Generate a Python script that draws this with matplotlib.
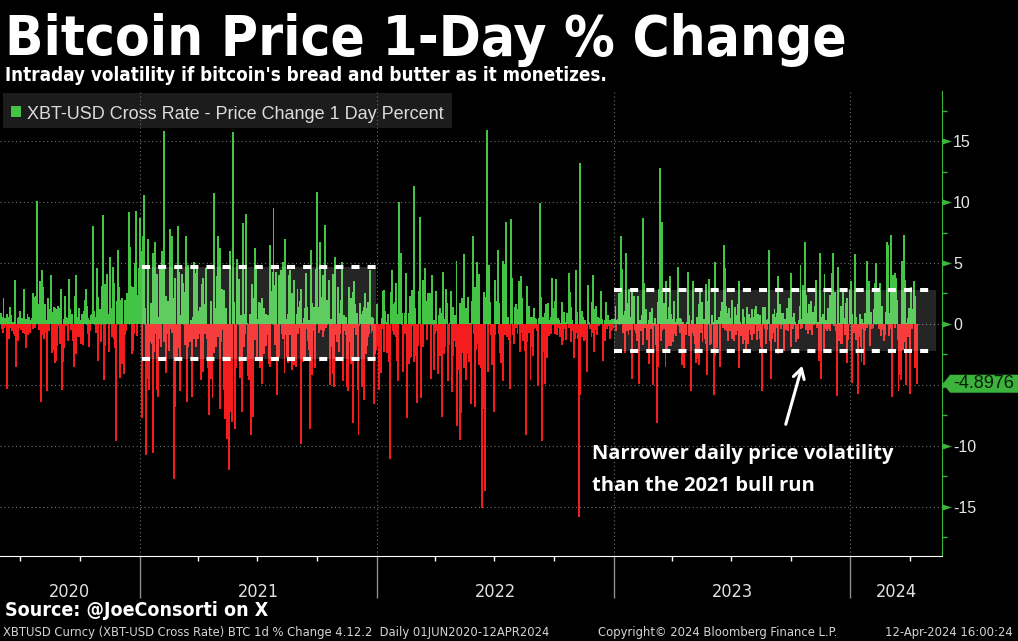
import matplotlib
matplotlib.use("Agg")
import matplotlib.pyplot as plt
import matplotlib.dates as mdates
from matplotlib.patches import Rectangle, Polygon
from matplotlib.ticker import MultipleLocator
import numpy as np
import pandas as pd

plt.rcParams['axes.unicode_minus'] = False

# XBT-USD 1 day % change, one string per month (Jun 2020 .. 12 Apr 2024)
chg_2020 = [
    "0.9 -0.4 0.6 -0.7 2.1 -0.3 0.5 -0.2 0.4 0.8 -5.3 0.6 -0.5 -1.2 1.4 0.7 -0.3 -0.6 0.2 -0.1 -0.8 -1.0 3.6 -3.5 -0.9 -0.4 -1.4 0.5 0.6 -0.3",
    "1.1 -0.5 0.3 0.5 -0.7 1.7 2.9 -0.8 0.4 -2.0 0.3 0.8 -0.9 0.6 -0.4 -0.7 0.2 0.3 0.5 -0.4 2.5 2.2 0.8 -0.3 2.3 1.1 10.1 0.4 1.6 -0.5 3.5",
    "2.4 -6.4 4.4 -0.9 3.0 -0.4 -1.2 1.6 -0.7 0.3 -5.5 1.9 2.1 -0.6 1.2 0.5 4.0 -1.3 -2.4 1.0 -2.1 1.4 -3.2 1.3 -3.0 1.2 -1.8 1.5 -0.2 1.3 -1.6",
    "2.9 -0.9 -5.4 -3.1 -1.9 0.4 -2.0 2.3 0.6 -0.2 0.5 0.4 -1.4 3.7 1.2 0.6 -0.5 0.8 0.5 -1.4 -0.9 -3.5 2.3 -2.5 4.0 -0.2 0.6 -1.1 1.3 -0.1",
    "-1.1 -1.6 0.3 0.8 -1.7 -1.5 1.1 2.0 1.0 2.9 0.6 1.5 -0.8 0.5 -1.9 -0.6 0.3 0.7 0.8 0.6 8.0 1.1 0.3 0.6 -0.7 -0.3 4.6 -3.0 2.2 -0.1 1.2",
    "0.9 -1.5 2.9 3.1 8.9 2.1 -4.6 3.3 -1.8 0.2 1.9 4.1 0.8 -2.3 -0.8 5.5 1.3 0.9 -1.1 4.7 0.6 -1.2 3.4 -2.0 -3.6 -9.6 1.9 3.3 6.1 3.0",
    "-4.4 2.0 1.6 -3.3 2.1 -3.2 -1.3 -4.1 2.0 -0.9 -0.6 2.5 1.7 0.5 1.7 9.2 6.3 3.1 1.5 -2.5 -2.2 3.0 -0.8 5.0 3.3 9.3 2.4 -1.0 0.7 4.6 0.9",
]
chg_2021 = [
    "1.9 8.7 3.1 -7.7 6.0 7.2 10.6 5.1 1.3 -4.0 -10.7 -4.5 6.2 7.0 -5.4 -1.5 -1.0 1.7 -1.6 -0.5 -10.6 5.8 -2.3 6.7 -0.8 0.8 -5.4 4.1 -6.0 -1.2 0.6",
    "4.6 1.5 -1.9 6.0 2.0 1.4 -1.5 15.8 0.9 -4.0 2.3 1.1 -0.8 1.9 -2.2 2.7 7.8 -0.4 7.2 -0.7 2.1 -12.7 -5.1 3.8 -6.8 -1.5 -0.3 -2.9",
    "8.0 -2.0 4.3 -5.5 0.4 0.7 4.1 2.5 3.4 2.6 2.1 -1.7 7.2 -3.2 -6.4 -1.9 4.8 -1.0 -0.6 -1.5 0.3 -6.0 -5.5 0.6 -1.2 5.1 0.9 -1.9 4.2 4.6 -1.2",
    "0.2 1.1 -0.8 1.4 0.6 -4.6 3.3 -3.9 3.8 1.6 0.4 -0.8 4.6 -1.0 -1.2 -3.6 -0.7 -7.5 -1.8 1.9 -4.5 -4.4 -6.1 -1.3 -2.4 10.7 1.3 -0.7 -1.9 3.9",
    "7.2 -1.1 1.5 -7.0 6.2 -1.5 1.2 2.9 -0.5 -5.4 2.8 -7.8 -4.5 1.3 -9.4 -3.5 -6.8 -2.8 -12.0 6.0 -7.2 -1.2 -8.0 15.7 0.5 1.8 -3.2 -8.6 -3.6 4.2 5.3",
    "1.0 2.9 3.7 -3.4 -4.4 0.7 -7.2 -3.0 8.3 -1.9 0.8 -0.8 9.0 2.3 0.1 -4.3 -2.2 -4.6 -0.3 0.8 -9.1 -1.0 3.3 2.1 -7.6 -0.9 6.2 -1.3 4.7 -0.7",
    "-3.0 0.4 1.8 1.8 -3.6 1.7 -0.7 -4.9 2.1 0.7 1.3 -2.5 -1.8 0.8 -1.8 -0.9 -0.6 0.7 -3.3 -3.5 6.5 2.7 2.3 1.7 4.3 9.5 3.2 -1.7 1.3 4.3 -0.8",
    "-5.8 -1.2 -2.7 4.0 2.1 4.4 2.6 -0.8 5.1 -1.2 1.6 -4.0 7.0 -0.9 0.4 -2.7 -3.2 0.8 4.0 4.4 -0.9 0.8 2.5 -3.8 1.5 -3.4 3.6 -0.7 -0.5 -3.5 0.8",
    "2.9 -0.8 1.4 -0.3 1.9 2.9 -9.8 0.1 -0.8 -3.1 0.5 1.3 -3.0 4.2 1.4 -0.4 -1.4 0.3 -2.1 -8.6 -1.5 6.1 1.7 -4.2 0.4 1.4 -0.6 -3.6 1.0 4.5",
    "10.8 0.1 1.4 -0.7 6.7 4.9 -0.5 1.9 2.2 -1.1 4.0 -0.6 1.7 8.1 -0.3 2.0 0.9 0.4 2.5 3.6 -5.0 -1.9 0.4 -1.0 4.1 -4.1 -5.2 3.7 5.5 -0.6 -0.9",
    "-1.5 3.0 -1.5 -2.3 -0.8 0.9 2.0 5.1 1.6 -4.7 0.7 -0.6 0.3 0.6 -0.9 -5.2 -0.6 -5.5 1.3 3.0 -1.5 -3.3 2.1 -1.9 2.6 -8.1 3.5 1.6 -0.3 -0.9",
    "0.9 -0.6 -5.4 -9.1 -0.2 1.7 0.3 0.8 -5.2 -3.2 1.1 1.4 -6.2 2.5 1.3 -2.5 -1.8 1.8 -1.1 -0.8 4.2 4.4 -0.1 -0.7 0.6 -0.6 0.5 -6.6 -2.5 -1.7 -2.1",
]
chg_2022 = [
    "1.6 -0.6 -1.8 -0.8 -5.4 -1.1 -4.0 -0.2 0.5 -0.4 2.7 2.8 -2.3 1.1 0.1 0.2 -2.4 0.8 -2.0 -3.1 -11.1 -4.2 2.6 0.6 4.4 -0.6 -0.9 1.6 1.8 -1.1 3.4",
    "0.8 -3.0 -4.7 10.0 0.5 2.8 5.8 0.7 0.9 -1.2 -3.9 -0.3 -0.8 0.9 4.2 -0.8 -7.7 -1.5 0.9 -3.3 -2.8 2.3 -2.7 2.8 1.6 -0.2 -3.1 11.3",
    "1.3 -0.9 -2.6 -6.5 -0.9 -1.8 2.7 0.2 8.8 -6.1 -2.0 0.0 -1.9 3.6 0.2 4.6 1.8 1.9 0.4 -1.3 2.5 2.5 1.9 2.5 -4.5 0.6 4.0 0.8 0.2 0.3 -3.8",
    "-0.8 2.7 -0.6 -0.2 -1.9 -4.1 0.7 -2.6 1.3 -0.9 -7.6 0.9 4.3 -2.5 0.4 -0.4 -1.9 2.9 1.7 0.5 -4.7 -1.7 -0.5 0.1 2.3 2.7 -5.6 1.4 -2.6 -1.4",
    "-0.7 0.7 -1.9 5.2 -8.4 -0.9 -0.9 -3.8 -9.5 1.7 -7.3 -2.4 2.1 1.3 5.7 -3.6 1.0 -4.6 1.3 -2.5 0.6 2.2 -3.1 0.0 0.1 -1.8 -6.6 1.9 2.6 7.2 -0.8",
    "-6.8 3.0 -2.1 0.4 5.1 -1.6 4.1 -3.4 -1.4 -2.4 -3.6 -7.0 -15.1 -0.9 2.6 -7.0 -13.7 1.0 2.2 15.9 0.3 -3.9 4.8 -0.1 1.8 -0.9 -3.4 -1.8 -3.0 -0.5",
    "-7.2 3.6 -0.9 1.5 0.6 1.9 6.1 1.7 -0.8 -2.4 -2.4 -3.2 -0.4 -4.7 5.2 1.0 -0.9 4.9 8.4 -0.6 -1.1 -0.8 0.6 -1.3 -2.4 -5.3 8.6 3.8 0.9 -0.9 -1.6",
    "-1.0 1.4 -0.3 1.6 1.0 -0.8 1.2 0.8 3.5 -2.3 3.9 -0.7 2.1 -1.4 -1.3 -0.7 -1.3 -2.2 -9.1 3.1 -1.5 0.9 1.5 -0.7 0.6 -4.6 -1.9 -1.4 0.6 -2.6 1.3",
    "-0.4 0.5 -0.3 0.4 -0.6 -5.1 -0.4 0.5 9.9 1.3 0.7 2.2 -9.6 0.6 -2.3 -0.6 0.9 -4.9 1.6 -2.8 -1.8 1.7 0.3 -1.0 0.2 0.6 -0.8 3.8 0.4 -0.1",
    "1.3 -0.8 1.9 3.7 -0.8 -0.9 -0.3 0.5 0.3 -1.1 -1.0 0.1 1.8 -1.7 -1.4 0.9 1.0 -0.4 -1.3 0.2 0.9 0.2 0.2 -0.3 4.2 2.6 -1.5 1.4 0.3 -0.6 -0.3",
    "-2.8 -1.2 -0.9 4.4 1.0 -0.7 -1.2 -6.5 -15.8 13.2 -5.8 -1.0 -1.1 1.1 0.6 -1.4 0.2 0.3 -0.4 -1.3 -3.9 3.2 1.3 0.2 -0.4 -0.3 -0.2 -1.1 1.8 4.0",
    "-0.7 -2.3 1.2 -0.5 1.5 -0.6 -0.9 0.6 0.5 -0.2 0.1 0.9 2.7 0.4 -2.5 -3.0 -0.3 0.3 -1.4 1.8 -0.3 -0.4 0.7 0.1 -0.2 0.3 -1.2 -0.6 0.4 -0.5 -0.3",
]
chg_2023 = [
    "0.3 0.4 0.3 1.5 -0.6 0.3 0.2 0.4 2.5 0.3 1.9 7.2 3.5 4.5 -0.7 0.7 0.7 -2.4 1.1 5.8 1.7 -0.6 0.3 -0.9 2.9 -0.5 0.6 -0.2 2.6 -4.5 1.2",
    "0.8 2.3 -0.5 -0.1 -0.7 -1.4 2.3 -1.2 -4.9 -0.4 0.3 -0.6 -0.2 0.7 8.7 -1.7 3.4 -0.2 -0.3 1.2 -0.3 -1.3 -0.8 -3.3 0.3 1.0 -0.4 -0.3",
    "1.3 -0.9 -5.0 0.1 -0.2 0.5 -0.4 -1.7 -8.1 -3.5 1.8 2.9 12.8 1.5 -1.4 -0.6 8.4 1.2 -0.4 1.7 0.3 -3.5 3.5 -2.2 0.4 -1.0 -1.8 1.4 3.9 -1.8 0.8",
    "-0.2 0.4 -1.5 1.9 -0.8 0.2 -1.0 0.3 0.4 4.7 3.2 -0.2 0.5 -0.7 0.4 -0.8 -3.4 0.2 -3.6 -2.0 -0.4 -0.6 -0.9 0.2 2.0 4.3 -1.0 0.7 -0.7 -0.7",
    "-5.5 0.3 3.5 -0.7 -1.0 -1.6 -1.2 -3.2 0.6 -0.2 -2.9 -3.4 1.6 2.9 -0.3 -0.7 1.8 -1.5 0.3 0.4 0.2 -1.2 3.3 -1.6 -4.2 1.9 0.4 3.7 -1.7 -0.3 -1.6",
    "0.3 0.7 0.2 -0.3 -5.8 5.1 -2.6 -0.4 0.3 -2.0 0.0 0.2 0.6 -3.5 1.1 0.6 1.8 -0.3 0.5 6.5 4.6 -0.5 1.5 -0.4 -0.6 -1.4 0.9 1.3 -0.6 0.5",
    "0.4 -1.2 2.0 -1.1 -0.6 -1.4 1.4 -0.2 -0.9 0.7 1.6 -0.6 3.5 -3.6 0.2 -0.5 -1.0 -0.5 -1.6 1.2 0.6 -1.1 -1.3 -2.1 1.4 0.9 -1.6 0.8 0.3 -0.5 -0.9",
    "0.5 -1.3 1.2 -0.4 0.6 -0.8 1.2 1.5 0.7 -1.3 -0.3 0.8 -0.6 0.7 -1.2 -1.9 -5.5 -2.4 1.4 -0.1 0.9 -0.4 1.4 -1.6 0.3 -0.5 0.4 1.5 6.1 -1.4 -4.5",
    "-0.6 -1.2 0.8 -0.7 0.3 1.2 -1.5 0.6 -0.3 0.9 -2.5 3.9 -0.1 1.6 1.6 -0.4 0.1 0.9 0.9 -1.2 -2.2 0.4 -0.3 -0.5 1.3 0.5 -0.6 2.1 0.6 1.7",
    "4.2 -1.9 -0.2 0.6 -0.4 0.9 0.2 -0.1 -1.5 -0.3 -1.0 -1.2 0.3 0.2 1.5 4.8 -0.4 -0.3 0.4 3.2 0.5 0.9 6.7 2.4 -0.5 0.9 -0.8 0.3 1.6 -0.5 0.3",
    "1.9 0.7 -0.9 0.9 1.0 -0.1 0.4 1.5 3.6 -0.2 -0.3 0.2 -0.4 -3.0 5.8 -4.5 -0.1 0.6 0.8 0.2 -2.4 4.1 -0.4 0.3 0.1 -0.6 -0.4 1.3 -0.1 -0.6",
    "2.4 1.6 0.9 4.2 5.8 -0.2 1.2 2.6 -0.6 -0.3 -5.9 -0.6 4.7 -0.9 -1.4 0.1 -1.6 1.5 -1.6 2.6 1.2 0.5 -0.5 -0.9 1.7 -3.2 2.1 -0.9 -1.3 -0.1 0.5",
]
chg_2024 = [
    "2.9 3.5 -4.8 0.8 -0.1 -0.3 -0.7 5.7 -1.3 0.6 -0.8 -5.7 -0.4 -1.1 0.8 -0.1 -1.9 -3.1 0.4 0.1 -0.4 -3.4 -0.6 0.9 0.2 5.2 -0.3 0.8 3.5 0.4 -1.8",
    "0.4 1.0 -0.4 0.0 -0.3 0.3 1.2 3.4 5.0 0.4 1.3 2.3 2.6 -0.4 3.4 1.3 -1.0 0.2 1.5 -0.5 -1.4 -0.6 -0.9 0.5 1.0 6.7 4.5 6.5 -1.0",
    "0.9 -0.4 1.1 7.3 -6.0 4.0 0.9 0.2 -0.3 4.2 3.8 0.0 2.0 -1.3 -5.5 -2.9 -2.5 -4.2 -4.6 5.2 -0.8 -2.1 -1.5 7.3 3.6 -5.0 -0.7 0.1 -1.1 0.5 1.3",
    "-3.3 -5.7 0.5 3.0 -0.4 1.2 0.5 3.5 -3.6 2.3 -0.5 -4.8976",
]
month_starts = pd.date_range("2020-06-01", "2024-04-01", freq="MS")
years = ["2020", "2021", "2022", "2023", "2024"]
y_ticks = [-15, -10, -5, 0, 5, 10, 15]

# hand drawn volatility bands: (start, end, low, high)
band_2021 = ("2021-01-05", "2021-12-31", -2.87, 4.70)
band_2023 = ("2023-01-01", "2024-05-12", -2.19, 2.75)

dates, values = [], []
for start, txt in zip(month_starts, chg_2020 + chg_2021 + chg_2022 + chg_2023 + chg_2024):
    vals = [float(v) for v in txt.split()]
    dates += list(pd.date_range(start, periods=len(vals), freq="D"))
    values += vals
x = mdates.date2num(pd.DatetimeIndex(dates).to_pydatetime())
values = np.array(values)

GREEN = "#44c444"
RED = "#f41c1c"
AXIS_GREEN = "#3cb43c"
GRID = "#6e6e6e"
COND = dict(family="DejaVu Sans", stretch="condensed")

W, H = 1018, 641
fig = plt.figure(figsize=(W / 100, H / 100), dpi=100, facecolor="black")
ax = fig.add_axes([0, 1 - 556 / H, 942 / W, 465 / H])
ax.set_facecolor("none")

x0 = mdates.date2num(pd.Timestamp("2020-06-01").to_pydatetime()) - 1.4
ax.set_xlim(x0, x0 + 942 / 0.649)
ax.set_ylim(-19.02, 19.1)

# bars are thinner than a pixel: draw ups and downs separately, without
# antialiasing and a bit wider, so both survive in the same pixel column
up = values >= 0
ax.bar(x[up], values[up], width=3.0, color=GREEN, linewidth=0, antialiased=False, zorder=2)
ax.bar(x[~up], values[~up], width=3.0, color=RED, linewidth=0, antialiased=False, zorder=2)

for a, b, lo, hi in (band_2021, band_2023):
    xa = mdates.date2num(pd.Timestamp(a).to_pydatetime())
    xb = mdates.date2num(pd.Timestamp(b).to_pydatetime())
    ax.add_patch(Rectangle((xa, lo), xb - xa, hi - lo, facecolor="white", alpha=0.15, lw=0, zorder=3))
    for yv in (lo, hi):
        ax.plot([xa, xb], [yv, yv], color="white", lw=2.9, dashes=(2, 2),
                dash_capstyle="butt", zorder=4)

# axes / ticks
for s in ("left", "top"):
    ax.spines[s].set_visible(False)
ax.spines["right"].set_color(AXIS_GREEN)
ax.spines["bottom"].set_color("white")

ax.xaxis.set_major_locator(mdates.YearLocator())
ax.xaxis.set_minor_locator(mdates.MonthLocator(bymonth=[1, 4, 7, 10]))
ax.tick_params(axis="x", which="major", length=30, color="#8c8c8c", width=1, labelbottom=False)
ax.tick_params(axis="x", which="minor", length=3.6, color="white", width=1, labelbottom=False)

last = values[-1]
ax.yaxis.tick_right()
ax.set_yticks(y_ticks)
# the last-value tag covers the nearest tick label
ax.set_yticklabels(["" if abs(v - last) < 1.5 else str(v) for v in y_ticks])
ax.yaxis.set_minor_locator(MultipleLocator(2.5))
ax.tick_params(axis="y", which="major", length=0, pad=8, labelsize=11.5, labelcolor="#e6e6e6")
ax.tick_params(axis="y", which="minor", length=3.6, color=AXIS_GREEN, width=1)
for lab in ax.get_yticklabels():
    lab.set_fontfamily("Liberation Sans")

ax.grid(axis="both", which="major", color=GRID, lw=0.8, ls=(0, (1, 2.5)), zorder=0)
ax.set_axisbelow(True)

tri = [(-1, -0.65), (1, 0), (-1, 0.65), (-1, -0.65)]
ax.scatter(np.full(len(y_ticks), 1.0058), y_ticks, marker=tri, s=42, color=AXIS_GREEN,
           linewidths=0, transform=ax.get_yaxis_transform(), clip_on=False, zorder=5)

# year labels centred on each year's span
xl = ax.get_xlim()
bounds = [xl[0]] + [mdates.date2num(pd.Timestamp(f"{y}-01-01").to_pydatetime()) for y in years[1:]] + [xl[1]]
for i, y in enumerate(years):
    ax.text((bounds[i] + bounds[i + 1]) / 2, -0.088, y, transform=ax.get_xaxis_transform(),
            ha="center", va="baseline", fontsize=13, color="#e0e0e0", **COND)

# last value tag
hh = 9 * (ax.get_ylim()[1] - ax.get_ylim()[0]) / 465
ax.add_patch(Polygon([(1.001, last), (1.0085, last + hh), (1.09, last + hh), (1.09, last - hh),
                      (1.0085, last - hh)], closed=True, transform=ax.get_yaxis_transform(),
                     facecolor=AXIS_GREEN, edgecolor="none", clip_on=False, zorder=10))
ax.text(1.0117, last, f"{last:.4f}", transform=ax.get_yaxis_transform(), va="center", ha="left",
        fontsize=13, color="#0b1a0b", family="Liberation Sans", zorder=11, clip_on=False)

# legend box
fig.patches.append(Rectangle((3 / W, 1 - 128 / H), 449 / W, 35 / H, transform=fig.transFigure,
                             facecolor="#1c1c1c", edgecolor="none", zorder=-1))
fig.patches.append(Rectangle((11 / W, 1 - 117 / H), 10 / W, 11 / H, transform=fig.transFigure,
                             facecolor=GREEN, edgecolor="none", zorder=1))
fig.text(27 / W, 1 - 119 / H, "XBT-USD Cross Rate - Price Change 1 Day Percent", va="baseline",
         fontsize=13, color="#dcdcdc", family="Liberation Sans")

# titles
fig.text(5 / W, 1 - 55 / H, "Bitcoin Price 1-Day % Change", va="baseline", fontsize=40.6,
         weight="bold", color="white", **COND)
fig.text(5 / W, 1 - 81 / H, "Intraday volatility if bitcoin's bread and butter as it monetizes.",
         va="baseline", fontsize=13.5, weight="bold", color="white", **COND)

# annotation
fig.text(592 / W, 1 - 459 / H, "Narrower daily price volatility", va="baseline", fontsize=14.5,
         weight="bold", family="Open Sans", color="white")
fig.text(592 / W, 1 - 491 / H, "than the 2021 bull run", va="baseline", fontsize=14.5,
         weight="bold", family="Open Sans", color="white")
ax.annotate("", xy=(803, H - 363), xytext=(785, H - 427), xycoords="figure pixels",
            textcoords="figure pixels",
            arrowprops=dict(arrowstyle="->,head_length=0.7,head_width=0.4", color="white", lw=2.2))

# footer
fig.text(5 / W, 1 - 616 / H, "Source: @JoeConsorti on X", va="baseline", fontsize=14,
         weight="bold", color="white", **COND)
fig.text(3 / W, 1 - 636 / H, "XBTUSD Curncy (XBT-USD Cross Rate) BTC 1d % Change 4.12.2  Daily 01JUN2020-12APR2024",
         va="baseline", fontsize=9.3, color="#d4d4d4", **COND)
fig.text(598 / W, 1 - 636 / H, "Copyright\u00a9 2024 Bloomberg Finance L.P.", va="baseline",
         fontsize=9.3, color="#d4d4d4", **COND)
fig.text(1013 / W, 1 - 636 / H, "12-Apr-2024 16:00:24", va="baseline", ha="right",
         fontsize=9.3, color="#d4d4d4", **COND)

fig.savefig("out.png", dpi=100, facecolor="black")
